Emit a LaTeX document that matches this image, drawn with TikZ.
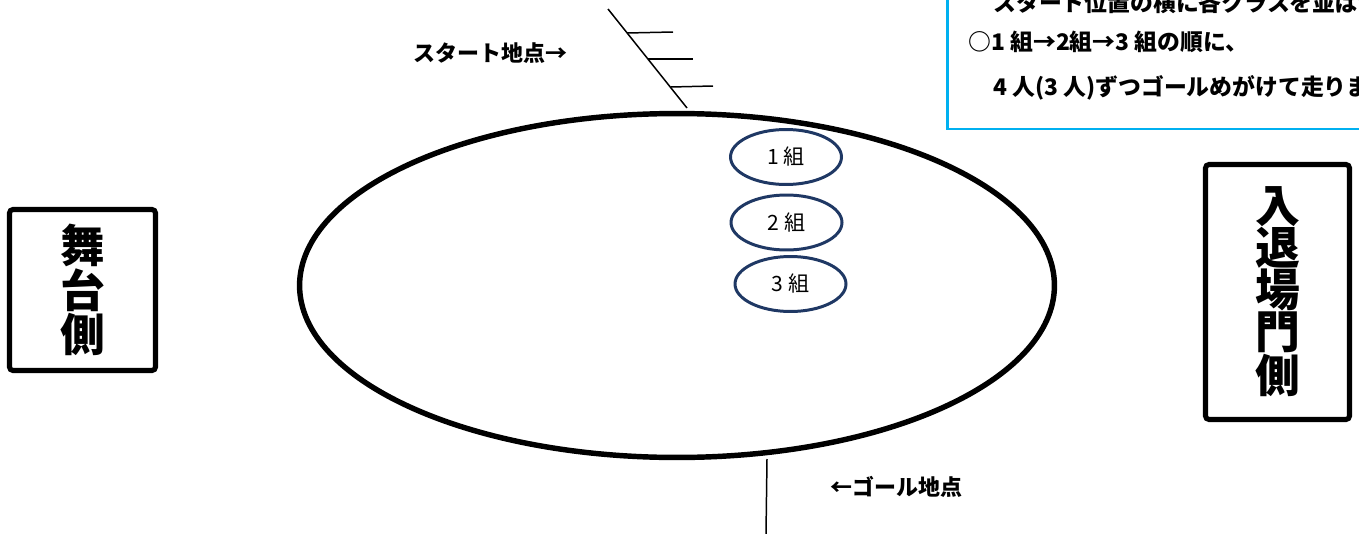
\documentclass[tikz,border=0pt]{standalone}
\usepackage{fontspec}
\newfontfamily\jp{Noto Sans CJK JP}
\usetikzlibrary{shapes.geometric}
\definecolor{navy}{HTML}{1F3864}
\definecolor{skyb}{HTML}{00B0F0}
\begin{document}
\begin{tikzpicture}[x={(0.02cm,0)}, y={(0,-0.02cm)},
  pop/.style={font=\jp\bfseries\fontsize{12.5}{14}\selectfont, inner sep=0, anchor=base west},
  notetxt/.style={pop, font=\jp\bfseries\fontsize{13}{14}\selectfont},
  side/.style={draw, line width=2.9pt, rounded corners=2pt, align=center, inner sep=0, outer sep=0,
    font=\jp\bfseries\fontsize{25.5}{23.8}\selectfont},
  grp/.style={ellipse, draw=navy, line width=1.7pt, minimum width=2.22cm, minimum height=1.1cm, inner sep=0,
    font=\jp\fontsize{12}{14}\selectfont},
  thin/.style={line width=0.85pt}]
\useasboundingbox (0,0) rectangle (1359,534);
\clip (0,0) rectangle (1359,534);

% track
\node[ellipse, draw, line width=3.1pt, minimum width=15.1cm, minimum height=6.88cm, inner sep=0] (track) at (677,285.5) {};

% groups
\node[grp] (g1) at (786,157) {1 組};
\node[grp] (g2) at (786.5,222.5) {2 組};
\node[grp] (g3) at (790.5,284) {3 組};

% start line
\coordinate (s0) at (608,9);
\coordinate (s1) at (687,108);
\draw[thin] (s0) -- (s1);
\coordinate (t1a) at (627,33); \coordinate (t1b) at (673,32);
\coordinate (t2a) at (648,59); \coordinate (t2b) at (693,59);
\coordinate (t3a) at (671,87); \coordinate (t3b) at (713,86);
\draw[thin] (t1a) -- (t1b);
\draw[thin] (t2a) -- (t2b);
\draw[thin] (t3a) -- (t3b);

% goal line
\coordinate (gl0) at (767,459);
\coordinate (gl1) at (766,534);
\draw[thin] (gl0) -- (gl1);

% labels
\node[pop] (startlbl) at (413,61) {スタート地点→};
\node[pop] (goallbl) at (830,495) {←ゴール地点};

% side boxes
\node[side, minimum width=2.92cm, minimum height=3.22cm] (stage) at (82.5,290) {舞\\台\\側};
\node[side, minimum width=2.88cm, minimum height=5.1cm] (gate) at (1277.5,292) {入\\退\\場\\門\\側};

% note box
\node[draw=skyb, fill=white, line width=1.7pt, anchor=south west, outer sep=0, inner sep=0,
  minimum width=9.5cm, minimum height=3.2cm] (note) at (947,129) {};
\node[notetxt] (n1) at (993,11) {スタート位置の横に各クラスを並ばせます};
\node[notetxt] (n2) at (968,51) {○1 組→2組→3 組の順に、};
\node[notetxt] (n3) at (993,95) {4 人(3 人)ずつゴールめがけて走ります。};
\end{tikzpicture}
\end{document}
